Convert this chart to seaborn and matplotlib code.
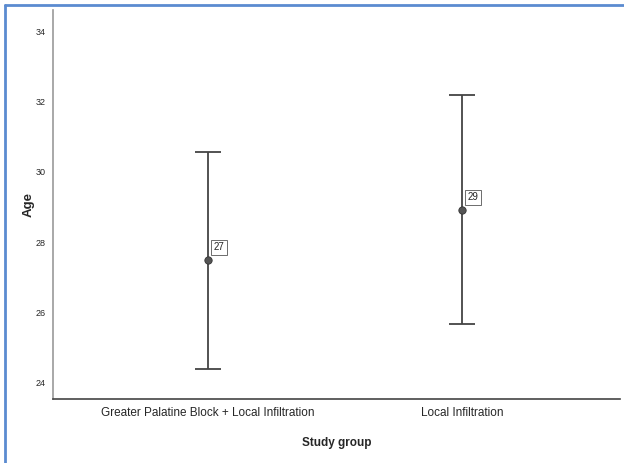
import matplotlib
matplotlib.use("Agg")
import matplotlib.pyplot as plt
import seaborn as sns
import numpy as np
from matplotlib.lines import Line2D

groups = ["Greater Palatine Block + Local Infiltration", "Local Infiltration"]
means = [27.5, 28.92]
lower = [24.4, 25.66]
upper = [30.57, 32.17]
labels = ["27", "29"]
yticks = [24, 26, 28, 30, 32, 34]

sns.set_style("white")
plt.rcParams['font.family'] = ['Liberation Sans', 'DejaVu Sans']

fig = plt.figure(figsize=(6.24, 4.63), dpi=100)
ax = fig.add_axes([53/624, 1-399/463, (620-53)/624, (399-10)/463])

m = np.array(means)
yerr = [m - np.array(lower), np.array(upper) - m]
ax.errorbar(groups, means, yerr=yerr, fmt="none", ecolor="#444444",
            elinewidth=1.3, capsize=9.7, capthick=1.3, zorder=2)
sns.scatterplot(x=groups, y=means, ax=ax, color="#555555", s=28,
                edgecolor="#333333", linewidth=0.6, zorder=3)

for i, (v, lab) in enumerate(zip(means, labels)):
    ax.annotate(lab, (i, v), xytext=(4, 9), textcoords="offset points",
                fontsize=7, ha="left", va="center",
                bbox=dict(boxstyle="square,pad=0.25", fc="white", ec="#555555", lw=0.6))

ax.set_xlim(-0.61, 1.62)
ax.set_ylim(23.54, 34.6)
ax.set_yticks(yticks)
ax.set_yticklabels([str(t) for t in yticks], fontsize=6.5)
ax.tick_params(axis="x", labelsize=8.5, length=0, pad=6)
ax.tick_params(axis="y", length=0, pad=5)
for lbl in ax.get_xticklabels():
    lbl.set_fontstretch("condensed")
ax.set_ylabel("Age", fontsize=9.5, fontweight="bold", labelpad=1)
ax.set_xlabel("Study group", fontsize=8.5, fontweight="bold", labelpad=13)

for s in ["top", "right"]:
    ax.spines[s].set_visible(False)
ax.spines["left"].set_color("#999999")
ax.spines["left"].set_linewidth(1.2)
ax.spines["bottom"].set_color("#444444")
ax.spines["bottom"].set_linewidth(1.2)

# figure border (left and top)
fig.add_artist(Line2D([5/624, 5/624], [0, 1-5/463], transform=fig.transFigure,
                      color="#5b8bd0", lw=2))
fig.add_artist(Line2D([5/624, 1], [1-5/463, 1-5/463], transform=fig.transFigure,
                      color="#5b8bd0", lw=2))

fig.savefig("out.png", dpi=100)
